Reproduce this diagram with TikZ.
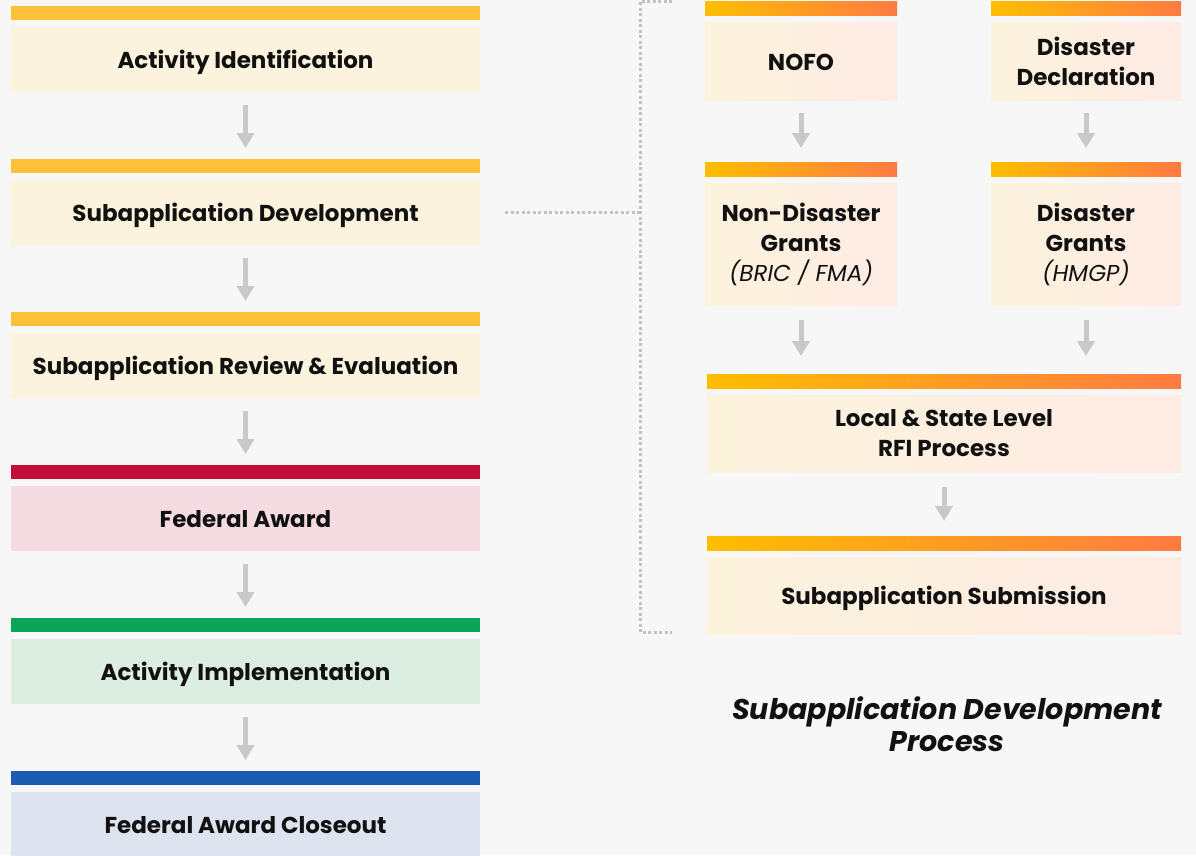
\documentclass[tikz,border=0pt]{standalone}
\usepackage{fontspec}
\setmainfont{Poppins}
\usetikzlibrary{positioning,arrows.meta}

\definecolor{ambar}{HTML}{FDC139}
\definecolor{amfill}{HTML}{FCF3DE}
\definecolor{redbar}{HTML}{C30E3C}
\definecolor{redfill}{HTML}{F4DCE2}
\definecolor{grnbar}{HTML}{0AA459}
\definecolor{grnfill}{HTML}{DCEDE2}
\definecolor{blubar}{HTML}{1B5BB3}
\definecolor{blufill}{HTML}{DDE4EF}
\definecolor{gold}{HTML}{FFBE00}
\definecolor{coral}{HTML}{FF7B42}
\definecolor{cream}{HTML}{FCF3DC}
\definecolor{peach}{HTML}{FDEBE4}
\definecolor{arrowgray}{HTML}{C9C9C9}
\definecolor{dotgray}{HTML}{C2C2C2}
\definecolor{bggray}{HTML}{F7F7F7}
\definecolor{ink}{HTML}{111111}

\begin{document}
\begin{tikzpicture}[x=1pt,y=-1pt
    , card/.style = {rectangle,inner sep=0pt,outer sep=0pt,align=center,text=ink,font=\fontsize{23}{30}\selectfont\bfseries}
    , oneline/.style = {text height=18pt,text depth=0pt}
    , bar/.style = {rectangle,inner sep=0pt,outer sep=0pt,minimum height=14pt}
    , gcard/.style = {card,left color=cream,right color=peach}
    , gbar/.style = {bar,left color=gold,right color=coral}
    , flow/.style = {line width=5pt,draw=arrowgray,-{Triangle[width=17pt,length=15pt]}}
    , link/.style = {line width=3pt,draw=dotgray,dash pattern=on 3pt off 2.5pt}
]
\fill[bggray] (0,0) rectangle (1196,855);
\useasboundingbox (0,0) rectangle (1196,855);

% lifecycle column
\foreach \nm/\yy/\bc/\fc/\txt in {ai/59.5/ambar/amfill/Activity Identification,
    sd/212.5/ambar/amfill/Subapplication Development,
    sr/365.5/ambar/amfill/Subapplication Review \& Evaluation,
    fa/518.5/redbar/redfill/Federal Award,
    ac/671.5/grnbar/grnfill/Activity Implementation,
    fc/824.5/blubar/blufill/Federal Award Closeout}
{
    \node[card,oneline,minimum width=469pt,minimum height=65pt,fill=\fc] (\nm) at (245.5,\yy) {\txt};
    \node[bar,minimum width=469pt,fill=\bc,above=7pt of \nm] (\nm-bar) {};
}
\foreach \a/\b in {ai/sd, sd/sr, sr/fa, fa/ac, ac/fc}
    \draw[flow,shorten <=13pt,shorten >=11pt] (\a.south) -- (\b-bar.north);

% development process
\node[gcard,oneline,minimum width=192pt,minimum height=78pt] (nofo) at (801,61) {NOFO};
\node[gcard,minimum width=190pt,minimum height=78pt] (dd) at (1086,61) {Disaster\\Declaration};
\node[gcard,minimum width=192pt,minimum height=122pt] (ndg) at (801,244)
    {Non-Disaster\\Grants\\{\normalfont\itshape (BRIC / FMA)}};
\node[gcard,minimum width=190pt,minimum height=122pt] (dg) at (1086,244)
    {Disaster\\Grants\\{\normalfont\itshape (HMGP)}};
\node[gcard,minimum width=474pt,minimum height=77pt] (rfi) at (944,433.5) {Local \& State Level\\RFI Process};
\node[gcard,oneline,minimum width=474pt,minimum height=77pt] (sub) at (944,595.5) {Subapplication Submission};
\foreach \nm/\ww in {nofo/192, dd/190, ndg/192, dg/190, rfi/474, sub/474}
    \node[gbar,minimum width=\ww pt,above=7pt of \nm] (\nm-bar) {};

\draw[flow,shorten <=13pt,shorten >=14pt] (nofo.south) -- (ndg-bar.north);
\draw[flow,shorten <=13pt,shorten >=14pt] (dd.south) -- (dg-bar.north);
\draw[flow,shorten <=15pt,shorten >=18pt] (ndg.south) -- (ndg.south |- rfi-bar.north);
\draw[flow,shorten <=15pt,shorten >=18pt] (dg.south) -- (dg.south |- rfi-bar.north);
\draw[flow,shorten <=15pt,shorten >=15pt] (rfi.south) -- (sub-bar.north);

% dotted bracket
\coordinate (bt) at (672,1);
\coordinate (jt) at (640,1);
\coordinate (jb) at (640,632);
\coordinate (bb) at (672,632);
\draw[link] (bt) -- (jt) -- (jb) -- (bb);
\draw[link] ([xshift=25pt]sd.east) -- (sd.east -| jt);

\node[card,font=\fontsize{28.5}{32}\selectfont\bfseries\itshape] (title) at (947,724)
    {Subapplication Development\\Process};
\end{tikzpicture}
\end{document}
